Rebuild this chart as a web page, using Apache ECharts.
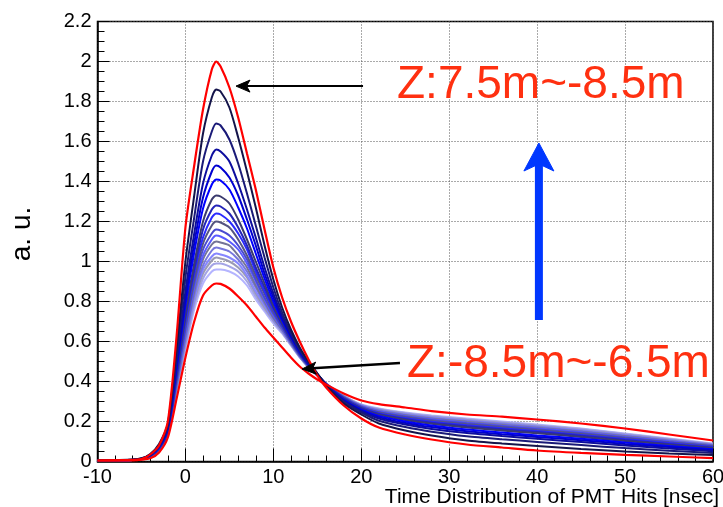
<!DOCTYPE html>
<html><head><meta charset="utf-8">
<script src="https://cdn.jsdelivr.net/npm/echarts@6/dist/echarts.min.js"></script>
<style>html,body{margin:0;padding:0;background:#fff}#c{width:723px;height:507px}</style>
</head><body><div id="c"></div>
<script>
// time bins [nsec]
const X = [-10,-6,-5,-4,-3,-2,-1,0,1,2,3,3.5,4,5,6,7,8,9,10,11,12,13,14,15,16,18,20,22,25,28,32,36,40,45,50,55,60];
// red curve, Z:7.5m~8.5m (highest peak)
const zTop = [.005,.008,.012,.035,.08,.2,.63,1.17,1.48,1.76,1.96,2.0,1.975,1.87,1.72,1.54,1.36,1.16,.97,.82,.70,.60,.51,.43,.37,.28,.215,.17,.135,.11,.085,.07,.055,.043,.033,.025,.017];
// red curve, Z:-8.5m~-6.5m (lowest peak)
const zBot = [.005,.006,.009,.016,.045,.12,.315,.52,.70,.83,.88,.89,.888,.865,.825,.78,.725,.67,.62,.57,.52,.475,.44,.41,.385,.34,.305,.287,.27,.252,.235,.224,.21,.19,.165,.135,.105];
// intermediate Z slices, from highest peak to lowest
const c01 = [.006,.010,.016,.038,.088,.19,.57,1.0,1.33,1.64,1.82,1.86,1.85,1.77,1.62,1.45,1.27,1.08,.91,.77,.66,.57,.50,.44,.38,.29,.235,.19,.155,.13,.105,.09,.078,.063,.05,.04,.032];
const c02 = [.006,.009,.015,.035,.08,.18,.53,.92,1.22,1.5,1.65,1.69,1.68,1.61,1.49,1.34,1.18,1.02,.87,.745,.645,.56,.495,.44,.382,.298,.245,.204,.172,.149,.126,.111,.098,.082,.067,.054,.043];
const c03 = [.006,.009,.014,.033,.076,.17,.50,.85,1.14,1.39,1.53,1.56,1.55,1.50,1.39,1.26,1.12,.97,.84,.727,.633,.553,.49,.437,.383,.303,.252,.215,.185,.163,.142,.127,.114,.097,.08,.065,.051];
const c04 = [.006,.008,.013,.031,.073,.165,.48,.81,1.09,1.32,1.45,1.48,1.47,1.42,1.33,1.21,1.08,.94,.82,.715,.626,.549,.487,.436,.384,.307,.256,.222,.193,.172,.151,.136,.123,.106,.088,.072,.056];
const c05 = [.006,.008,.013,.03,.07,.16,.46,.78,1.045,1.265,1.385,1.41,1.405,1.36,1.27,1.165,1.04,.915,.80,.705,.62,.545,.485,.435,.385,.31,.26,.228,.20,.18,.16,.145,.13,.114,.095,.078,.061];
const c06 = [.006,.008,.012,.029,.067,.155,.44,.74,.99,1.20,1.31,1.33,1.325,1.29,1.21,1.11,1.0,.89,.78,.693,.613,.541,.482,.434,.386,.314,.264,.234,.208,.189,.17,.155,.141,.123,.103,.084,.066];
const c07 = [.005,.008,.012,.028,.065,.151,.43,.72,.96,1.16,1.26,1.28,1.275,1.24,1.17,1.08,.97,.87,.77,.686,.608,.538,.481,.434,.386,.316,.267,.238,.213,.194,.176,.161,.147,.129,.108,.088,.069];
const c08 = [.005,.008,.012,.027,.063,.149,.42,.70,.94,1.12,1.22,1.24,1.235,1.20,1.14,1.06,.95,.85,.76,.68,.605,.536,.479,.433,.387,.318,.269,.242,.217,.199,.181,.166,.152,.133,.112,.092,.072];
const c09 = [.005,.008,.012,.026,.062,.146,.41,.68,.91,1.09,1.18,1.20,1.195,1.17,1.11,1.03,.93,.84,.75,.675,.601,.533,.478,.433,.387,.319,.272,.245,.221,.203,.186,.171,.156,.138,.116,.095,.075];
const c10 = [.005,.008,.012,.026,.06,.143,.40,.66,.89,1.06,1.14,1.16,1.155,1.13,1.08,1.01,.91,.82,.74,.669,.598,.531,.477,.432,.388,.321,.274,.248,.225,.208,.191,.176,.161,.142,.12,.098,.077];
const c11 = [.005,.007,.012,.025,.059,.141,.39,.64,.87,1.03,1.11,1.13,1.125,1.10,1.06,.99,.90,.81,.73,.665,.595,.529,.476,.432,.388,.322,.276,.251,.228,.211,.194,.179,.165,.146,.123,.101,.079];
const c12 = [.005,.007,.011,.024,.058,.139,.38,.63,.85,1.01,1.085,1.10,1.095,1.08,1.03,.97,.88,.80,.72,.66,.592,.528,.475,.432,.388,.324,.277,.253,.231,.214,.198,.183,.168,.149,.126,.103,.081];
const c13 = [.005,.007,.011,.024,.057,.137,.375,.61,.83,.98,1.055,1.07,1.065,1.05,1.01,.95,.87,.79,.715,.656,.59,.526,.474,.431,.389,.325,.279,.256,.234,.218,.202,.187,.172,.153,.129,.106,.083];
const c14 = [.005,.007,.011,.023,.055,.135,.37,.60,.81,.96,1.025,1.04,1.035,1.02,.99,.93,.85,.78,.71,.652,.587,.524,.473,.431,.389,.326,.281,.258,.237,.221,.205,.19,.175,.156,.132,.108,.085];
const c15 = [.005,.007,.011,.023,.054,.134,.365,.59,.80,.94,1.005,1.02,1.015,1.0,.97,.92,.84,.77,.705,.649,.585,.523,.472,.431,.389,.327,.282,.26,.239,.223,.208,.193,.178,.158,.134,.11,.086];
const c16 = [.005,.007,.011,.022,.053,.132,.357,.575,.78,.915,.98,.99,.99,.975,.95,.90,.825,.76,.70,.644,.583,.522,.471,.43,.39,.329,.283,.263,.242,.227,.211,.196,.181,.162,.137,.113,.088];
const c17 = [.005,.007,.011,.022,.052,.13,.35,.56,.76,.89,.95,.96,.96,.95,.925,.88,.81,.75,.69,.64,.58,.52,.47,.43,.39,.33,.285,.265,.245,.23,.215,.20,.185,.165,.14,.115,.09];

const mids = [c01,c02,c03,c04,c05,c06,c07,c08,c09,c10,c11,c12,c13,c14,c15,c16,c17];
const midColors = ['#14144a','#1a1a78','#0d0d9e','#0000d0','#0000ff','#3a3a6e','#2424b8','#2a2aff','#55557f','#4a4ad0','#5a5aff','#747496','#7777dd','#8686ff','#9a9ab4','#a4a4e6','#b4b4ff'];
const xTicks = [-10,0,10,20,30,40,50,60];
const yTicks = [0,0.2,0.4,0.6,0.8,1,1.2,1.4,1.6,1.8,2,2.2];
const labelTop = 'Z:7.5m~-8.5m';
const labelBot = 'Z:-8.5m~-6.5m';
const xTitle = 'Time Distribution of PMT Hits [nsec]';
const yTitle = 'a. u.';

const F = '"Liberation Sans", Arial, Helvetica, sans-serif';
const chart = echarts.init(document.getElementById('c'), null, {renderer:'canvas'});

function mk(arr, color, w, z){
  return {type:'line', data: X.map((x,i)=>[x, arr[i]]), showSymbol:false, symbol:'none',
    smooth:0.25,
    lineStyle:{color:color, width:w}, itemStyle:{color:color}, z:z, silent:true, animation:false, clip:true};
}
const series = [];
for (let i = mids.length-1; i >= 0; i--) series.push(mk(mids[i], midColors[i], 2, 2));
series.push(mk(zBot, '#ff0000', 2.2, 3));
series.push(mk(zTop, '#ff0000', 2.2, 3));

const tickStyle = {color:'#000', width:1};
chart.setOption({
  animation:false,
  backgroundColor:'#fff',
  grid:{left:97.5, right:10, top:21.5, bottom:45.5, show:true, borderColor:'#000', borderWidth:1.5,
        backgroundColor:'transparent', containLabel:false, outerBoundsMode:'none'},
  xAxis:{type:'value', min:xTicks[0], max:xTicks[xTicks.length-1], interval:10,
    axisLine:{show:true, onZero:false, lineStyle:{color:'#000', width:1.5}},
    axisTick:{show:true, inside:true, length:13, lineStyle:tickStyle},
    minorTick:{show:true, splitNumber:5, length:6, lineStyle:tickStyle},
    axisLabel:{color:'#000', fontSize:20, fontFamily:F, margin:6, showMinLabel:true, showMaxLabel:true},
    splitLine:{show:true, lineStyle:{color:'#555', type:[1,2], width:1}},
    minorSplitLine:{show:false}},
  yAxis:{type:'value', min:yTicks[0], max:yTicks[yTicks.length-1], interval:0.2,
    axisLine:{show:true, onZero:false, lineStyle:{color:'#000', width:1.5}},
    axisTick:{show:true, inside:true, length:12, lineStyle:tickStyle},
    minorTick:{show:true, splitNumber:4, length:7, lineStyle:tickStyle},
    axisLabel:{color:'#000', fontSize:20, fontFamily:F, margin:6, showMinLabel:true, showMaxLabel:true},
    splitLine:{show:true, lineStyle:{color:'#555', type:[1,2], width:1}},
    minorSplitLine:{show:false}},
  series: series
});

function px(p){ return chart.convertToPixel({gridIndex:0}, p); }
function arrow(tailD, tipD, shaftW, headL, headW, color){
  const t = px(tailD), h = px(tipD);
  const dx = h[0]-t[0], dy = h[1]-t[1], L = Math.hypot(dx,dy);
  const ux = dx/L, uy = dy/L, nx = -uy, ny = ux;
  const bx = h[0]-ux*headL, by = h[1]-uy*headL;
  const mx = h[0]-ux*headL*0.75, my = h[1]-uy*headL*0.75;
  return [
    {type:'line', shape:{x1:t[0], y1:t[1], x2:mx, y2:my}, style:{stroke:color, lineWidth:shaftW, lineCap:'butt'}, z:10, silent:true},
    {type:'polygon', shape:{points:[[h[0],h[1]],[bx+nx*headW/2, by+ny*headW/2],[mx,my],[bx-nx*headW/2, by-ny*headW/2]]}, style:{fill:color, stroke:color, lineWidth:1}, z:10, silent:true}
  ];
}
const g = [];
g.push(...arrow([20.2, 1.877], [5.75, 1.877], 2, 14, 12, '#000'));
g.push(...arrow([24.4, 0.4925], [13.26, 0.4625], 2.5, 14, 12, '#000'));
g.push(...arrow([40.2, 0.7075], [40.2, 1.5925], 8, 28, 30, '#0037ff'));
const red = '#ff3010';
g.push({type:'text', x:397, y:85, z:11, silent:true, style:{text:labelTop, fill:red, font:'46px '+F, align:'left', verticalAlign:'middle'}});
g.push({type:'text', x:407, y:364, z:11, silent:true, style:{text:labelBot, fill:red, font:'46px '+F, align:'left', verticalAlign:'middle'}});
g.push({type:'text', x:719, y:497, z:11, silent:true, style:{text:xTitle, fill:'#000', font:'21px '+F, align:'right', verticalAlign:'middle'}});
g.push({type:'text', x:22, y:234, rotation:Math.PI/2, z:11, silent:true, style:{text:yTitle, fill:'#000', font:'28px '+F, align:'center', verticalAlign:'middle'}});
chart.setOption({graphic: g});
</script></body></html>
